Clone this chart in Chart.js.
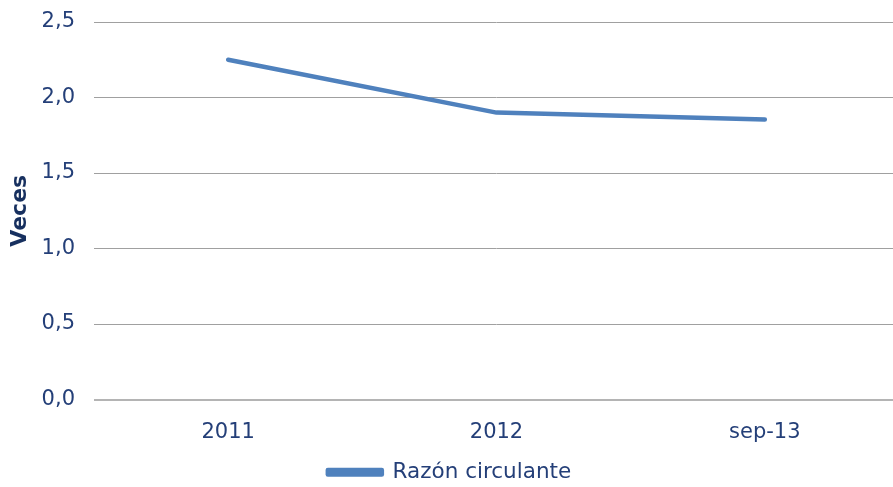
<!DOCTYPE html>
<html>
<head>
<meta charset="utf-8">
<script src="https://cdn.jsdelivr.net/npm/chart.js@4/dist/chart.umd.min.js"></script>
<style>
html,body{margin:0;padding:0;overflow:hidden;background:#fff;}
#wrap{width:893px;height:487px;overflow:hidden;}
canvas{display:block;}
</style>
</head>
<body>
<div id="wrap"><canvas id="c" width="906" height="487"></canvas></div>
<script>
const categories = ["2011", "2012", "sep-13"];
const seriesName = "Razón circulante";
const seriesValues = [2.25, 1.90, 1.855];
const yTitle = "Veces";
const yMin = 0, yMax = 2.5, yStep = 0.5;

const textColor = "#243F78";
const titleColor = "#17305F";
const lineColor = "#4F81BD";
const fontFamily = "'DejaVu Sans', Verdana, sans-serif";

new Chart(document.getElementById("c"), {
  type: "line",
  data: {
    labels: categories,
    datasets: [{
      label: seriesName,
      data: seriesValues,
      borderColor: lineColor,
      backgroundColor: lineColor,
      borderWidth: 4.5,
      borderCapStyle: "round",
      borderJoinStyle: "round",
      pointRadius: 0,
      tension: 0,
      fill: false
    }]
  },
  options: {
    responsive: false,
    maintainAspectRatio: false,
    animation: false,
    layout: { autoPadding: false, padding: { top: 22, right: 7, left: 0, bottom: -6 } },
    plugins: {
      legend: {
        position: "bottom",
        labels: {
          boxWidth: 54,
          boxHeight: 4.5,
          padding: 0,
          color: textColor,
          font: { family: fontFamily, size: 21.5 }
        }
      },
      tooltip: { enabled: false }
    },
    scales: {
      x: {
        offset: true,
        grid: { display: false },
        border: { display: false },
        ticks: {
          color: textColor,
          padding: 12,
          font: { family: fontFamily, size: 21 },
          maxRotation: 0
        },
        afterFit: (s) => { s.height = 62; }
      },
      y: {
        min: yMin,
        max: yMax,
        border: { display: false },
        grid: {
          drawTicks: true,
          tickLength: 19,
          tickColor: "rgba(0,0,0,0)",
          color: (ctx) => ctx.tick && ctx.tick.value === 0 ? "#B4B4B4" : "#A0A0A0",
          lineWidth: (ctx) => ctx.tick && ctx.tick.value === 0 ? 2 : 1
        },
        ticks: {
          stepSize: yStep,
          color: textColor,
          padding: 0,
          font: { family: fontFamily, size: 21 },
          callback: (v) => Number(v).toFixed(1).replace(".", ",")
        },
        title: {
          display: true,
          text: yTitle,
          color: titleColor,
          padding: { top: 7, bottom: 0 },
          font: { family: fontFamily, size: 22, weight: "bold" }
        },
        afterFit: (s) => { s.width = 94; }
      }
    }
  }
});
</script>
</body>
</html>
